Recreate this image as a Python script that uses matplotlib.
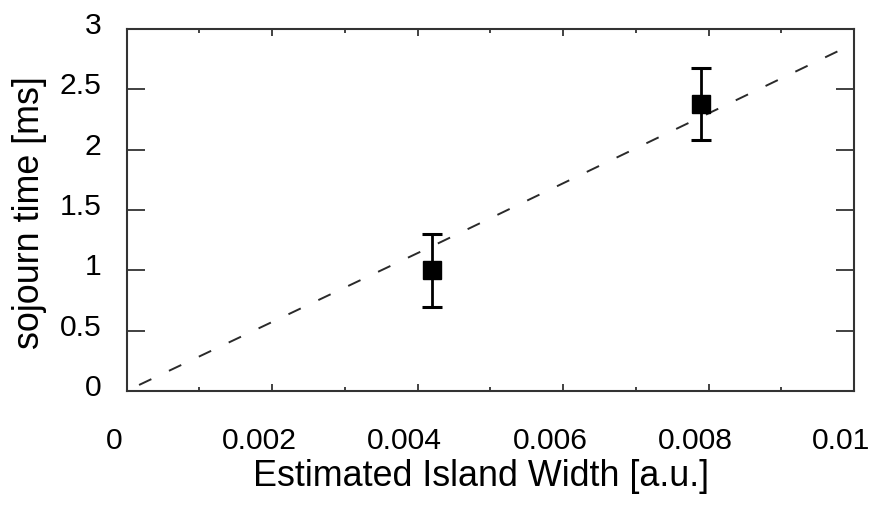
import matplotlib
matplotlib.use("Agg")
import matplotlib.pyplot as plt
import matplotlib.transforms as mtransforms

# Data
width = [0.0042, 0.0079]
sojourn = [1.0, 2.38]
sojourn_err = [0.3, 0.3]

fit_x = [0.00017, 0.0042, 0.0100]
fit_y = [0.05, 1.20, 2.88]

xticks = [0, 0.002, 0.004, 0.006, 0.008, 0.01]
xticklabels = ["0", "0.002", "0.004", "0.006", "0.008", "0.01"]
yticks = [0, 0.5, 1, 1.5, 2, 2.5, 3]
yticklabels = ["0", "0.5", "1", "1.5", "2", "2.5", "3"]

plt.rcParams['font.family'] = ['Liberation Sans', 'DejaVu Sans']

fig = plt.figure(figsize=(8.75, 5.07), dpi=100)
ax = fig.add_axes([126.7/875, (507-391)/507, (854-126.7)/875, (391-29)/507])

ax.plot(fit_x, fit_y, color='#2a2a2a', lw=1.4, dashes=(7, 10))
ax.errorbar(width, sojourn, yerr=sojourn_err, fmt='s', color='black',
            ms=12.5, capsize=7, elinewidth=2.0, capthick=2.2, zorder=3)

ax.set_xlim(0, 0.01)
ax.set_ylim(0, 3)
ax.set_xticks(xticks)
ax.set_xticklabels(xticklabels)
ax.set_yticks(yticks)
ax.set_yticklabels(yticklabels)
ax.set_xticks([0.001, 0.003, 0.005, 0.007, 0.009], minor=True)

for s in ax.spines.values():
    s.set_linewidth(1.5)
    s.set_color('#333333')

ax.tick_params(axis='both', which='both', direction='in', colors='#333333',
               labelcolor='black', labelsize=21.7, width=1.3)
ax.tick_params(axis='x', which='major', length=5, top=True, pad=26)
ax.tick_params(axis='x', which='minor', length=3, top=True)
ax.tick_params(axis='y', which='major', length=13, right=True, pad=18)

for lab in ax.get_xticklabels():
    lab.set_transform(lab.get_transform() +
                      mtransforms.ScaledTranslation(-13/100, 0, fig.dpi_scale_trans))
for lab in ax.get_yticklabels():
    lab.set_transform(lab.get_transform() +
                      mtransforms.ScaledTranslation(0, 6/100, fig.dpi_scale_trans))

fig.text(481/875, 1 - 477/507, "Estimated Island Width [a.u.]", fontsize=25.8,
         ha='center', va='center')
fig.text(30/875, 1 - 213/507, "sojourn time [ms]", fontsize=25.8,
         ha='center', va='center', rotation=90)

fig.savefig("out.png", dpi=100)
